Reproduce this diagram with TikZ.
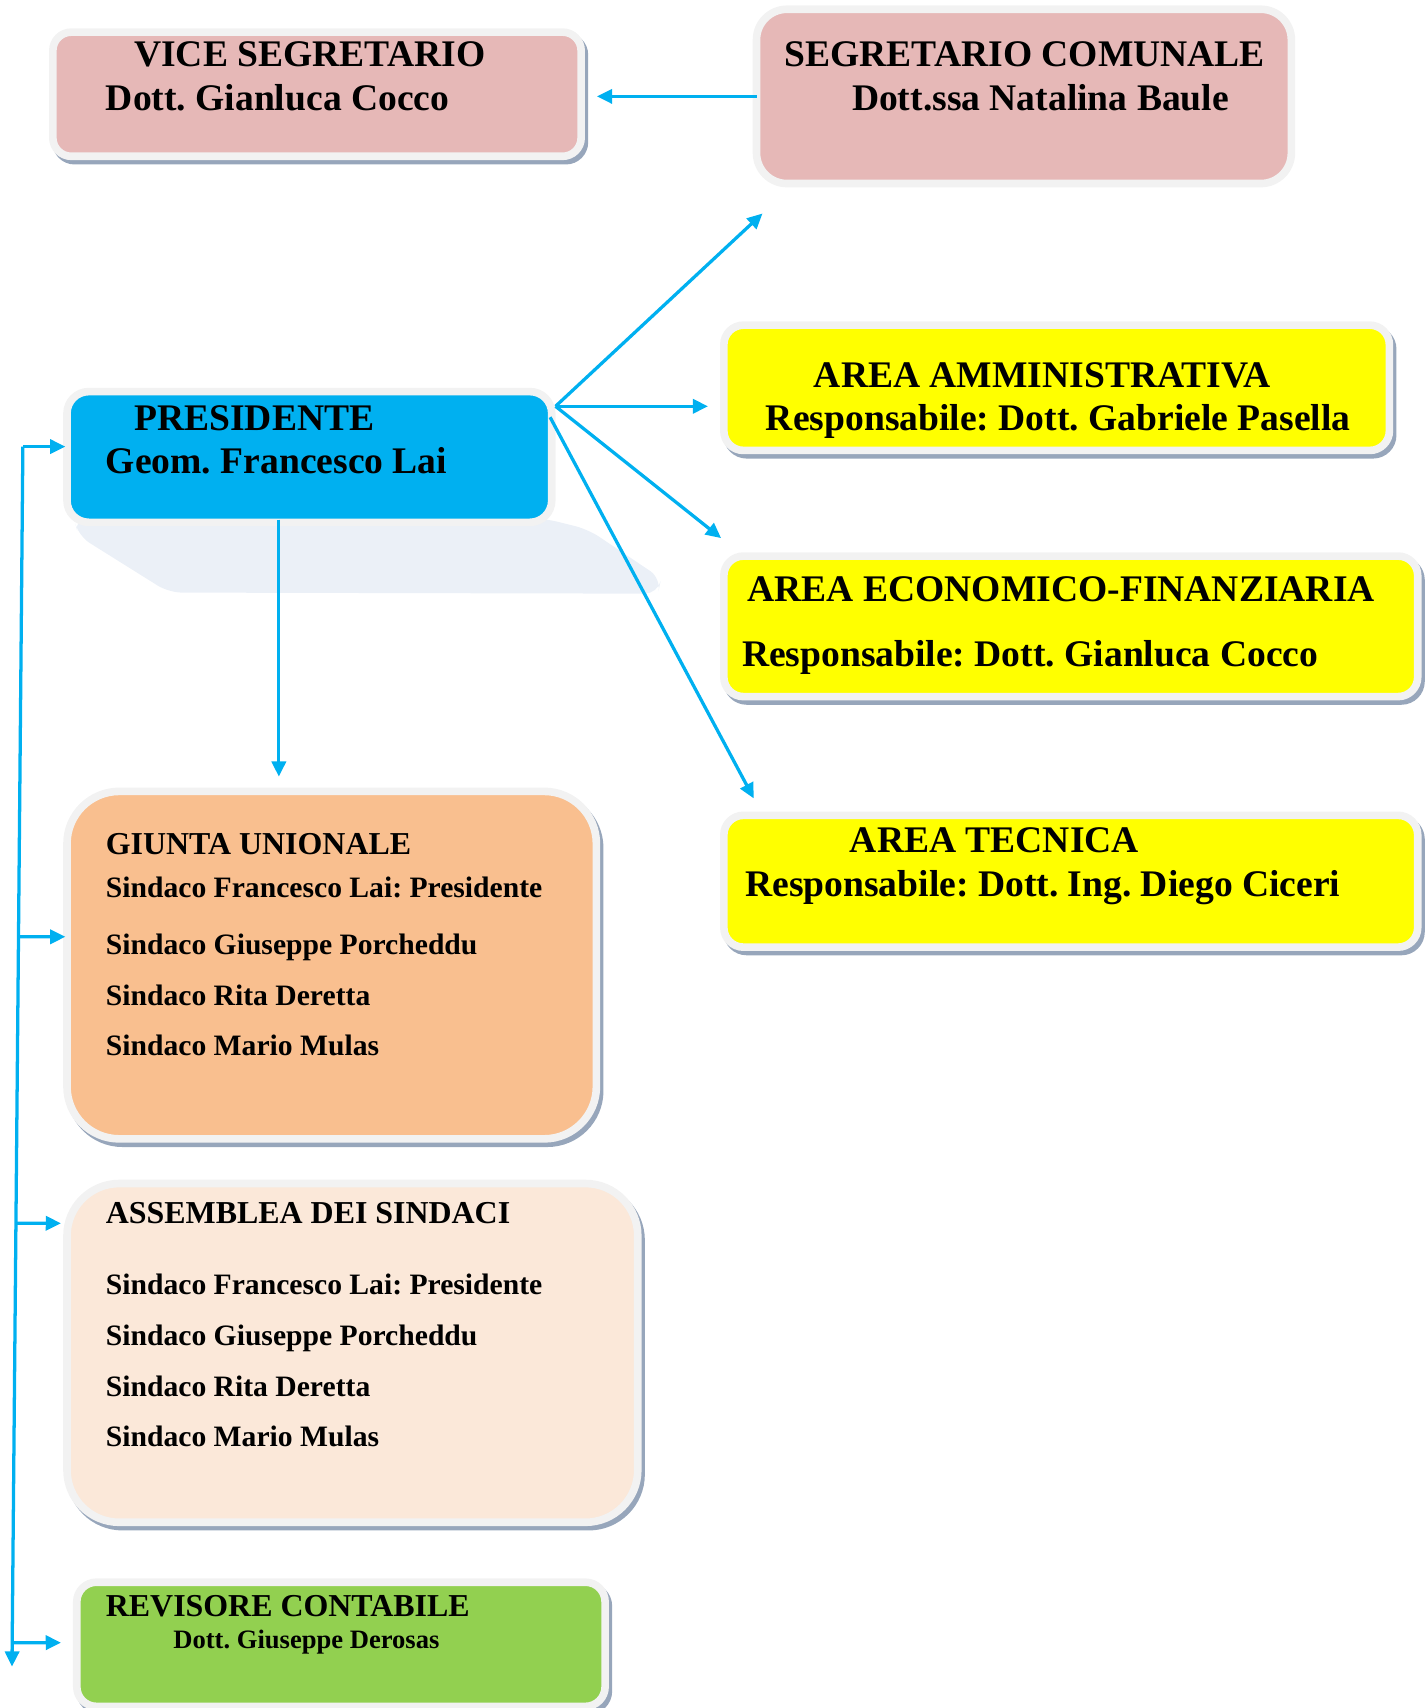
\documentclass[tikz,border=0pt]{standalone}
\usepackage{fontspec}
\setmainfont{Liberation Serif}
\frenchspacing
\usetikzlibrary{arrows.meta,backgrounds,calc}
\definecolor{pinkc}{HTML}{E6B8B7}
\definecolor{bluec}{HTML}{00B0F0}
\definecolor{yelc}{HTML}{FFFF00}
\definecolor{orac}{HTML}{F9BF8F}
\definecolor{assc}{HTML}{FBE8D9}
\definecolor{grnc}{HTML}{92D050}
\definecolor{framec}{HTML}{F2F2F2}
\definecolor{shadowc}{HTML}{97A6BB}
\definecolor{pshc}{HTML}{EBF0F7}
\definecolor{arrc}{HTML}{00B0F0}
\tikzset{
  bx/.style={draw=framec, line width=7pt, inner sep=0pt, outer sep=0pt, anchor=north west},
  tA/.style={anchor=base west, inner sep=0pt, font=\fontsize{34.5}{40}\selectfont\bfseries},
  tB/.style={anchor=base west, inner sep=0pt, font=\fontsize{29.3}{34}\selectfont\bfseries},
  tC/.style={anchor=base west, inner sep=0pt, font=\fontsize{27.2}{32}\selectfont\bfseries},
  tD/.style={anchor=base west, inner sep=0pt, font=\fontsize{24.4}{28}\selectfont\bfseries},
  arr/.style={draw=arrc, line width=3pt, -{Triangle[length=14pt,width=13pt]}},
  shd/.style={fill=shadowc},
}
\begin{document}
\begin{tikzpicture}[x=1pt,y=-1pt]
\useasboundingbox (0,0) rectangle (1308,1568);
% boxes
\node[bx, fill=pinkc, rounded corners=17pt, minimum width=485pt, minimum height=114pt] (vs) at (48.5,29.5) {};
\node[bx, fill=pinkc, rounded corners=28pt, minimum width=491pt, minimum height=160pt] (sc) at (694.5,8.5) {};
\node[bx, fill=bluec, rounded corners=20pt, minimum width=445pt, minimum height=120pt] (pr) at (61.5,359.5) {};
\node[bx, fill=yelc, rounded corners=18pt, minimum width=611pt, minimum height=115pt] (aa) at (664.5,298.5) {};
\node[bx, fill=yelc, rounded corners=18pt, minimum width=637pt, minimum height=129pt] (ae) at (664.5,510.5) {};
\node[bx, fill=yelc, rounded corners=18pt, minimum width=637pt, minimum height=121pt] (at) at (664.5,748.5) {};
\node[bx, fill=orac, rounded corners=48pt, minimum width=486pt, minimum height=319pt] (gu) at (61.5,726.5) {};
\node[bx, fill=assc, rounded corners=48pt, minimum width=524pt, minimum height=311pt] (as) at (61.5,1086.5) {};
\node[bx, fill=grnc, rounded corners=18pt, minimum width=485pt, minimum height=114pt] (rv) at (70.5,1452.5) {};
% shadows
\begin{pgfonlayer}{background}
\fill[pshc, rounded corners=12pt] (68,476) -- (72,492) -- (155,544) -- (604,545) -- (607,531) -- (540,486) -- (500,476) -- cycle;
\fill[shd, rounded corners=20.5pt] ([shift={(-0.5,0.5)}]vs.north west) rectangle ([shift={(6.5,7.5)}]vs.south east);
\fill[shd, rounded corners=21.5pt] ([shift={(-0.5,0.5)}]aa.north west) rectangle ([shift={(6.5,7.5)}]aa.south east);
\fill[shd, rounded corners=21.5pt] ([shift={(-0.5,0.5)}]ae.north west) rectangle ([shift={(6.5,7.5)}]ae.south east);
\fill[shd, rounded corners=21.5pt] ([shift={(-0.5,0.5)}]at.north west) rectangle ([shift={(6.5,7.5)}]at.south east);
\fill[shd, rounded corners=51.5pt] ([shift={(-0.5,0.5)}]gu.north west) rectangle ([shift={(6.5,7.5)}]gu.south east);
\fill[shd, rounded corners=51.5pt] ([shift={(-0.5,0.5)}]as.north west) rectangle ([shift={(6.5,7.5)}]as.south east);
\fill[shd, rounded corners=21.5pt] ([shift={(-0.5,0.5)}]rv.north west) rectangle ([shift={(6.5,7.5)}]rv.south east);
\end{pgfonlayer}
% texts
\node[tA] (vs1) at (123,61) {VICE SEGRETARIO};
\node[tA] (vs2) at (97,101) {Dott. Gianluca Cocco};
\node[tA] (sc1) at (720,61) {SEGRETARIO COMUNALE};
\node[tA] (sc2) at (782,101) {Dott.ssa Natalina Baule};
\node[tA] (pr1) at (123,395) {PRESIDENTE};
\node[tA] (pr2) at (97,435) {Geom. Francesco Lai};
\node[tA] (aa1) at (747,356) {AREA AMMINISTRATIVA};
\node[tA] (aa2) at (703,395) {Responsabile: Dott. Gabriele Pasella};
\node[tA] (ae1) at (686,552) {AREA ECONOMICO-FINANZIARIA};
\node[tA] (ae2) at (681,612) {Responsabile: Dott. Gianluca Cocco};
\node[tA] (at1) at (780,783) {AREA TECNICA};
\node[tA] (at2) at (684,823) {Responsabile: Dott. Ing. Diego Ciceri};
\node[tB] (gu0) at (97,784) {GIUNTA UNIONALE};
\node[tC] (gu1) at (97,824) {Sindaco Francesco Lai: Presidente};
\node[tC] (gu2) at (97,876) {Sindaco Giuseppe Porcheddu};
\node[tC] (gu3) at (97,923) {Sindaco Rita Deretta};
\node[tC] (gu4) at (97,969) {Sindaco Mario Mulas};
\node[tB] (as0) at (97,1123) {ASSEMBLEA DEI SINDACI};
\node[tC] (as1) at (97,1188) {Sindaco Francesco Lai: Presidente};
\node[tC] (as2) at (97,1235) {Sindaco Giuseppe Porcheddu};
\node[tC] (as3) at (97,1282) {Sindaco Rita Deretta};
\node[tC] (as4) at (97,1328) {Sindaco Mario Mulas};
\node[tB] (rv1) at (97,1484) {REVISORE CONTABILE};
\node[tD] (rv2) at (159,1513) {Dott. Giuseppe Derosas};
% connector coordinates
\coordinate (vs-in) at (548,88.5);
\coordinate (pr-o) at (510,373);
\coordinate (pr-o2) at (505,383);
\coordinate (up-end) at (700,196);
\coordinate (aa-in) at (650,373);
\coordinate (ae-in) at (662,494);
\coordinate (at-in) at (692,733);
\coordinate (pd-s) at (256,477);
\coordinate (gu-top) at (256,713);
\coordinate (Ltop) at (21,410);
\coordinate (Lbot) at (11,1530);
\coordinate (pr-in) at (60,410);
\coordinate (Lg) at ($(Ltop)!0.4018!(Lbot)$);
\coordinate (La) at ($(Ltop)!0.6366!(Lbot)$);
\coordinate (Lr) at ($(Ltop)!0.9804!(Lbot)$);
\coordinate (gu-in) at (60,860);
\coordinate (as-in) at (56,1123);
\coordinate (rv-in) at (56,1508);
% connectors
\draw[arr] (sc.west) -- (vs-in);
\draw[arr] (pr-o) -- (up-end);
\draw[arr] (pr-o) -- (aa-in);
\draw[arr] (pr-o) -- (ae-in);
\draw[arr] (pr-o2) -- (at-in);
\draw[arr] (pd-s) -- (gu-top);
\draw[arr] (Ltop) -- (pr-in);
\draw[arr] (Ltop) -- (Lbot);
\draw[arr] (Lg) -- (gu-in);
\draw[arr] (La) -- (as-in);
\draw[arr] (Lr) -- (rv-in);
\end{tikzpicture}
\end{document}
